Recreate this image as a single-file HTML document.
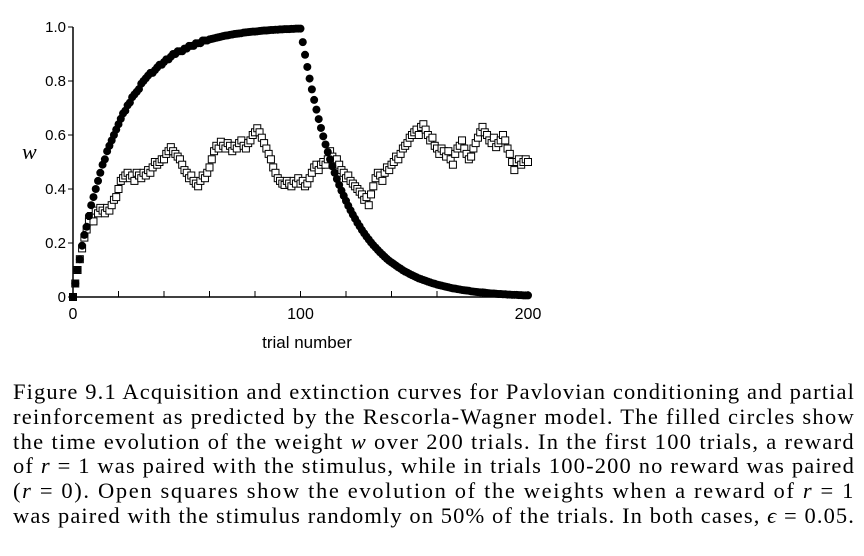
<!DOCTYPE html>
<html><head><meta charset="utf-8"><style>
body{margin:0;background:#fff;width:864px;height:556px;overflow:hidden;position:relative}
#cap{position:absolute;left:13px;top:380px;width:843px;font-family:"Liberation Serif",serif;font-size:22.5px;line-height:24.8px;color:#000}
#cap div{white-space:nowrap}
#cap span{display:inline-block}
i{font-style:italic}
</style></head><body>
<svg id="chart" width="864" height="370" style="position:absolute;left:0;top:0" font-family="Liberation Sans, sans-serif"></svg>
<div id="cap">
<div><span>Figure 9.1 Acquisition and extinction curves for Pavlovian conditioning and partial</span></div>
<div><span>reinforcement as predicted by the Rescorla-Wagner model. The filled circles show</span></div>
<div><span>the time evolution of the weight <i>w</i> over 200 trials. In the first 100 trials, a reward</span></div>
<div><span>of <i>r</i> = 1 was paired with the stimulus, while in trials 100-200 no reward was paired</span></div>
<div><span>(<i>r</i> = 0). Open squares show the evolution of the weights when a reward of <i>r</i> = 1</span></div>
<div><span>was paired with the stimulus randomly on 50% of the trials. In both cases, <i>ϵ</i> = 0.05.</span></div>
</div>
<script>
const acquisition=[0,.05,.10,.14,.19,.23,.26,.30,.34,.37,
.40,.43,.46,.49,.51,.54,.56,.58,.60,.62,
.64,.66,.68,.69,.71,.72,.74,.75,.76,.77,
.79,.80,.81,.82,.83,.83,.84,.85,.86,.86,
.87,.88,.88,.89,.90,.90,.91,.91,.91,.92,
.92,.93,.93,.93,.94,.94,.94,.95,.95,.95,
.954,.956,.958,.960,.962,.964,.966,.968,.969,.971,
.972,.974,.975,.976,.977,.979,.980,.981,.982,.983,
.983,.984,.985,.986,.987,.987,.988,.989,.989,.990,
.990,.991,.991,.992,.992,.992,.993,.993,.994,.994,.994];
const extinction=[.944,.897,.852,.809,.769,.730,.694,.659,.626,.595,
.565,.537,.510,.484,.460,.437,.415,.394,.375,.356,
.338,.321,.305,.290,.275,.262,.248,.236,.224,.213,
.202,.192,.183,.174,.165,.157,.149,.141,.134,.128,
.122,.116,.110,.105,.099,.094,.090,.085,.081,.077,
.073,.069,.066,.063,.060,.057,.054,.051,.049,.046,
.044,.042,.040,.038,.036,.034,.032,.031,.029,.028,
.026,.025,.024,.023,.021,.020,.019,.018,.017,.017,
.016,.015,.014,.013,.013,.012,.011,.011,.010,.010,
.009,.009,.008,.008,.008,.007,.007,.006,.006,.006];
const partial=[0,0.05,0.1,0.14,0.18,0.22,0.25,0.28,0.30,0.28,
0.32,0.31,0.33,0.32,0.31,0.33,0.32,0.34,0.36,0.37,
0.40,0.43,0.44,0.45,0.46,0.44,0.45,0.43,0.46,0.45,
0.44,0.46,0.45,0.47,0.46,0.48,0.50,0.49,0.50,0.51,
0.51,0.53,0.54,0.555,0.54,0.53,0.52,0.51,0.49,0.47,
0.46,0.44,0.45,0.43,0.42,0.41,0.43,0.45,0.44,0.46,
0.48,0.51,0.54,0.56,0.55,0.575,0.56,0.55,0.57,0.56,
0.54,0.56,0.55,0.57,0.58,0.56,0.55,0.57,0.58,0.60,
0.61,0.625,0.61,0.59,0.57,0.55,0.53,0.51,0.48,0.46,
0.44,0.43,0.42,0.415,0.43,0.42,0.41,0.43,0.42,0.44,
0.42,0.43,0.41,0.42,0.44,0.46,0.48,0.49,0.47,0.49,
0.50,0.49,0.51,0.54,0.52,0.50,0.51,0.49,0.47,0.46,
0.44,0.45,0.43,0.42,0.41,0.40,0.39,0.38,0.36,0.37,
0.34,0.38,0.41,0.44,0.46,0.45,0.43,0.46,0.48,0.47,
0.49,0.50,0.52,0.51,0.53,0.55,0.56,0.57,0.59,0.60,
0.61,0.62,0.60,0.63,0.64,0.62,0.60,0.58,0.59,0.56,
0.55,0.53,0.55,0.54,0.52,0.54,0.51,0.49,0.53,0.55,
0.56,0.58,0.55,0.53,0.51,0.52,0.55,0.57,0.59,0.61,
0.63,0.61,0.60,0.58,0.57,0.59,0.555,0.57,0.58,0.60,
0.58,0.55,0.53,0.50,0.47,0.50,0.51,0.49,0.50,0.51,0.50];
const yTicks=[0,0.2,0.4,0.6,0.8,1.0];
const yTickLabels=["0","0.2","0.4","0.6","0.8","1.0"];
const xTicks=[0,20,40,60,80,100,120,140,160,180,200];
const xLabels=[0,100,200];

const svg=document.getElementById('chart');
const NS='http://www.w3.org/2000/svg';
const X=t=>73+t*2.275, Y=v=>297-v*270;
function mk(tag,a,parent){const e=document.createElementNS(NS,tag);for(const k in a)e.setAttribute(k,a[k]);(parent||svg).appendChild(e);return e;}
const axes=mk('g',{});


let l=mk('line',{x1:X(0),y1:Y(1),x2:X(0),y2:Y(0),stroke:'#000','stroke-width':1.5},axes);


l=mk('line',{x1:X(0),y1:Y(0),x2:X(200),y2:Y(0),stroke:'#000','stroke-width':1.5},axes);


yTicks.forEach((v,i)=>{
  const t=mk('line',{x1:X(0)-5,y1:Y(v),x2:X(0),y2:Y(v),stroke:'#000','stroke-width':1},axes);
  
  
  const tx=mk('text',{x:X(0)-7,y:Y(v)+5,'text-anchor':'end','font-size':15},axes);
  
  
  tx.textContent=yTickLabels[i];
});
xTicks.forEach(v=>{
  const t=mk('line',{x1:X(v),y1:Y(0),x2:X(v),y2:Y(0)-6,stroke:'#000','stroke-width':1},axes);
  
  
});
xLabels.forEach(v=>{
  const tx=mk('text',{x:X(v),y:319,'text-anchor':'middle','font-size':16},axes);
  
  
  tx.textContent=v;
});
let tt=mk('text',{x:307,y:348,'text-anchor':'middle','font-size':17});


tt.textContent='trial number';
tt=mk('text',{x:22,y:159,'font-size':22,'font-style':'italic','font-family':'Liberation Serif, serif'});


tt.textContent='w';
const sq=mk('g',{});


partial.forEach((v,t)=>{
  const r=mk('rect',{x:X(t)-3.5,y:Y(v)-3.5,width:7,height:7,fill:'#fff',stroke:'#000','stroke-width':1},sq);
  
  
});
const ci=mk('g',{});


const circ=acquisition.concat(extinction);
circ.forEach((v,t)=>{
  const c=mk('circle',{cx:X(t),cy:Y(v),r:4,fill:'#000'},ci);
  
  
});
document.querySelectorAll('#cap span').forEach(s=>{
  const w=s.getBoundingClientRect().width;
  const n=s.textContent.length;
  s.style.letterSpacing=((842-w)/n)+'px';
});
</script>
</body></html>
